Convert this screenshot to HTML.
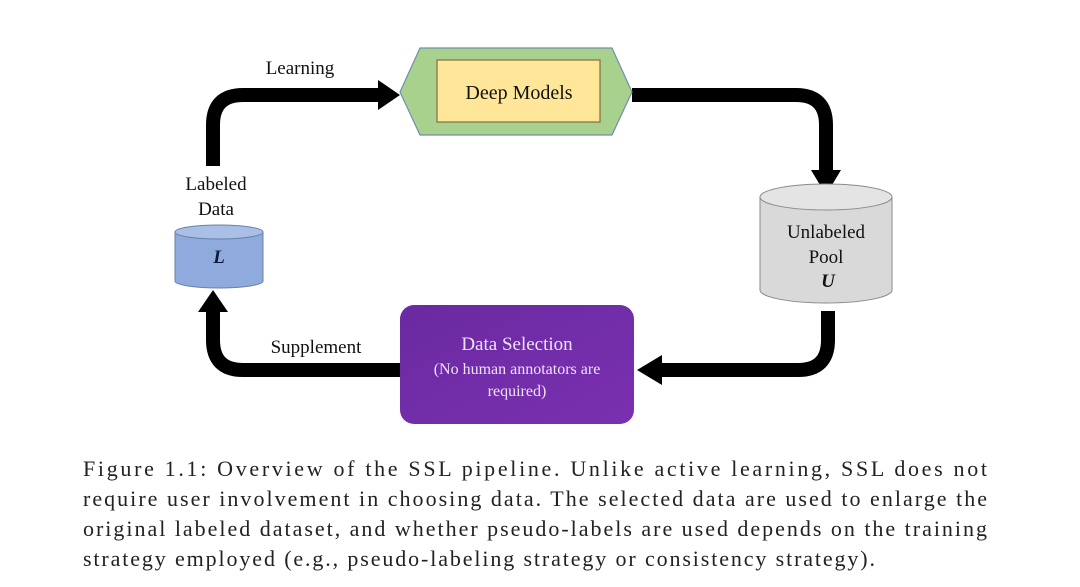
<!DOCTYPE html>
<html><head><meta charset="utf-8"><style>
html,body{margin:0;padding:0;background:#fff;width:1080px;height:587px;overflow:hidden}
svg{display:block}
text{font-family:"Liberation Serif",serif}
</style></head><body>
<svg width="1080" height="587" viewBox="0 0 1080 587" xmlns="http://www.w3.org/2000/svg">
<defs>
<linearGradient id="pg" x1="0" y1="0" x2="1" y2="1"><stop offset="0" stop-color="#6a2aa0"/><stop offset="1" stop-color="#7a30b0"/></linearGradient>
</defs>
<!-- arrows -->
<g fill="none" stroke="#000" stroke-width="14">
<path d="M213 166 V125 Q213 95 243 95 H380"/>
<path d="M632 95 H796 Q826 95 826 125 V172"/>
<path d="M828 311 V340 Q828 370 798 370 H660"/>
<path d="M400 370 H243 Q213 370 213 340 V310"/>
</g>
<polygon points="378,80 400,95 378,110" fill="#000"/>
<polygon points="811,170 841,170 826,195" fill="#000"/>
<polygon points="662,355 637,370 662,385" fill="#000"/>
<polygon points="198,312 228,312 213,290" fill="#000"/>
<!-- hexagon -->
<polygon points="400,92 420,48 612,48 632,92 612,135 420,135" fill="#a9d18e" stroke="#6f8fa8" stroke-width="1.2"/>
<rect x="437" y="60" width="163" height="62" fill="#ffe699" stroke="#7f6f3a" stroke-width="1.2"/>
<text x="519" y="99" font-size="20" text-anchor="middle" fill="#111">Deep Models</text>
<text x="300" y="74" font-size="19" text-anchor="middle" fill="#111">Learning</text>
<!-- labeled cylinder -->
<path d="M175 232 V281 A44 7 0 0 0 263 281 V232" fill="#8faadc" stroke="#6a7fa8" stroke-width="1"/>
<ellipse cx="219" cy="232" rx="44" ry="7" fill="#a9bfe6" stroke="#6a7fa8" stroke-width="1"/>
<text x="219" y="263" font-size="19" text-anchor="middle" font-style="italic" font-weight="bold" fill="#0d1a3a">L</text>
<text x="216" y="190" font-size="19" text-anchor="middle" fill="#111">Labeled</text>
<text x="216" y="215" font-size="19" text-anchor="middle" fill="#111">Data</text>
<!-- unlabeled cylinder -->
<path d="M760 197 V290 A66 13 0 0 0 892 290 V197" fill="#d9d9d9" stroke="#8a8a8a" stroke-width="1"/>
<ellipse cx="826" cy="197" rx="66" ry="13" fill="#e4e4e4" stroke="#8a8a8a" stroke-width="1"/>
<text x="826" y="238" font-size="19" text-anchor="middle" fill="#111">Unlabeled</text>
<text x="826" y="263" font-size="19" text-anchor="middle" fill="#111">Pool</text>
<text x="828" y="287" font-size="19" text-anchor="middle" font-style="italic" font-weight="bold" fill="#111">U</text>
<!-- data selection -->
<rect x="400" y="305" width="234" height="119" rx="14" fill="url(#pg)"/>
<text x="517" y="350" font-size="19" text-anchor="middle" fill="#f0e0ff">Data Selection</text>
<text x="517" y="374" font-size="16" text-anchor="middle" fill="#f0e0ff">(No human annotators are</text>
<text x="517" y="396" font-size="16" text-anchor="middle" fill="#f0e0ff">required)</text>
<text x="316" y="353" font-size="19" text-anchor="middle" fill="#111">Supplement</text>
<!-- caption -->
<g font-size="22" fill="#222">
<text x="83" y="476" textLength="904" lengthAdjust="spacing">Figure 1.1:   Overview of the SSL pipeline.  Unlike active learning, SSL does not</text>
<text x="83" y="506" textLength="904" lengthAdjust="spacing">require user involvement in choosing data. The selected data are used to enlarge the</text>
<text x="83" y="536" textLength="904" lengthAdjust="spacing">original labeled dataset, and whether pseudo-labels are used depends on the training</text>
<text x="83" y="566" textLength="792" lengthAdjust="spacing">strategy employed (e.g., pseudo-labeling strategy or consistency strategy).</text>
</g>
</svg>
</body></html>
